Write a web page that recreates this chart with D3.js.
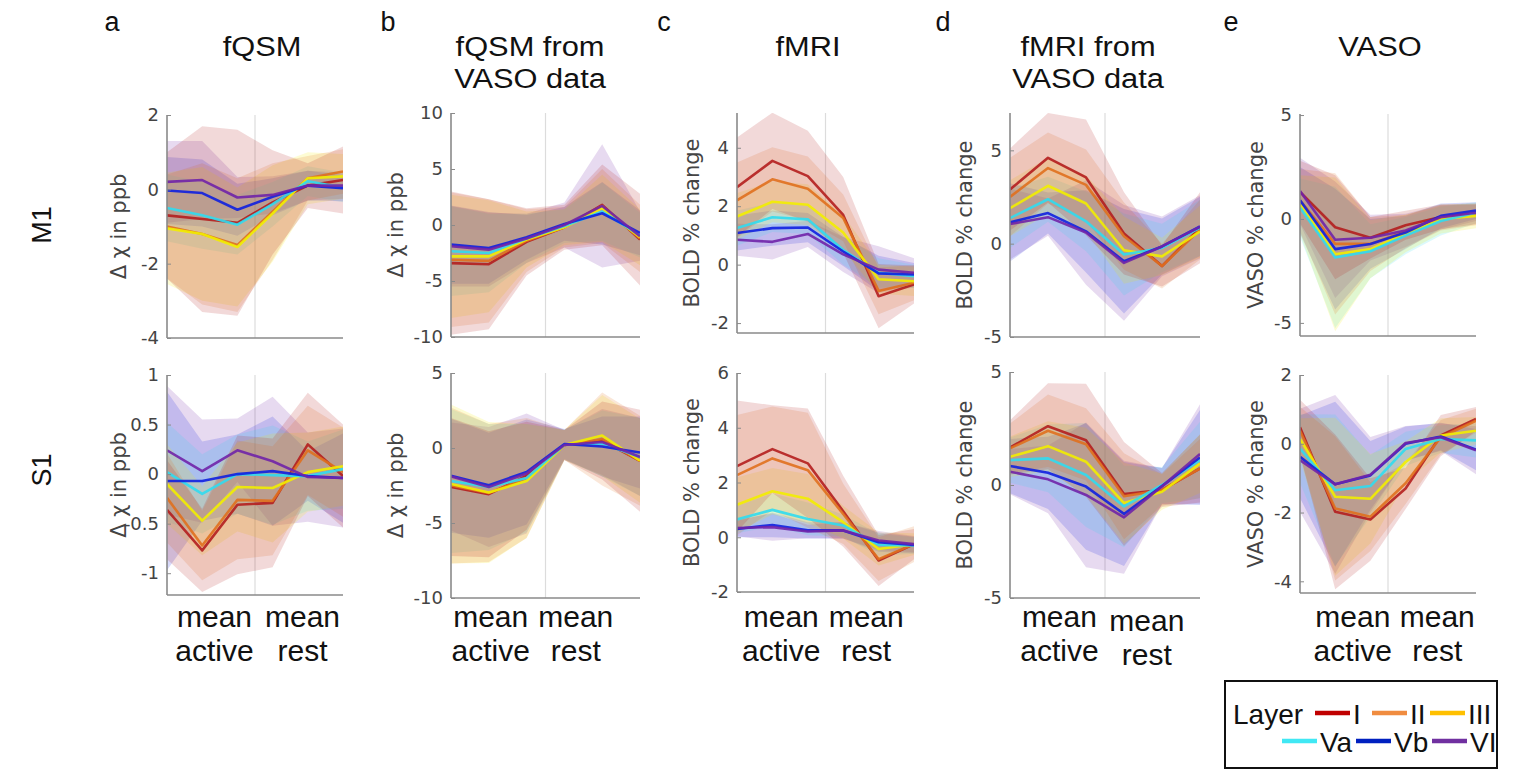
<!DOCTYPE html>
<html><head><meta charset="utf-8">
<script src="https://cdn.jsdelivr.net/npm/d3@7"></script>
<style>body{margin:0;background:#fff}svg{display:block}</style>
</head><body><svg id="chart" width="1532" height="776"></svg>
<script>
// ---------------- DATA ----------------
const timePoints = [1, 2, 3, 4, 5, 6];
const layers = ["I", "II", "III", "Va", "Vb", "VI"];
const lineColors = ["#b41e1e", "#e0701e", "#f2ee00", "#30dcf0", "#1020e0", "#7024a8"];
const legendColors = ["#c00000", "#f08c40", "#ffc000", "#40e8f4", "#0020c0", "#7030a0"];
const columnLetters = ["a", "b", "c", "d", "e"];
const columnTitles = [["fQSM"], ["fQSM from", "VASO data"], ["fMRI"], ["fMRI from", "VASO data"], ["VASO"]];
const rowNames = ["M1", "S1"];
const yAxisLabels = ["\u0394 \u03c7 in ppb", "\u0394 \u03c7 in ppb", "BOLD % change", "BOLD % change", "VASO % change"];
const xTickLabels = [["mean", "active"], ["mean", "rest"]];
const yTicksM1 = [[-4, -2, 0, 2], [-10, -5, 0, 5, 10], [-2, 0, 2, 4], [-5, 0, 5], [-5, 0, 5]];
const yTicksS1 = [[-1, -0.5, 0, 0.5, 1], [-10, -5, 0, 5], [-2, 0, 2, 4, 6], [-5, 0, 5], [-4, -2, 0, 2]];
const yDomainsM1 = [[-4, 2], [-10, 10], [-2.34, 5.19], [-5, 7], [-5.63, 5.05]];
const yDomainsS1 = [[-1.22, 1], [-10, 5], [-2, 6], [-5, 5], [-4.34, 2]];

// M1 row (rows: layers I, II, III, Va, Vb, VI)
const m1FqsmMean = [
  [-0.7, -0.8, -0.9, -0.35, 0.1, 0.25],
  [-1.0, -1.2, -1.5, -0.6, 0.3, 0.48],
  [-1.05, -1.2, -1.55, -0.65, 0.3, 0.35],
  [-0.5, -0.7, -0.95, -0.4, 0.22, 0.05],
  [-0.03, -0.1, -0.55, -0.2, 0.1, 0.03],
  [0.2, 0.25, -0.22, -0.15, 0.1, 0.1]];
const m1FqsmSd = [
  [1.7, 2.5, 2.5, 1.4, 0.6, 0.9],
  [1.4, 1.9, 1.8, 1.3, 0.6, 0.6],
  [1.5, 1.8, 1.6, 1.3, 0.7, 0.6],
  [0.9, 0.9, 0.8, 0.6, 0.4, 0.4],
  [0.9, 0.9, 0.7, 0.5, 0.4, 0.35],
  [1.1, 1.05, 0.55, 0.5, 0.4, 0.35]];
const m1FqsmVasoMean = [
  [-3.4, -3.5, -1.5, -0.2, 1.8, -1.3],
  [-3.1, -3.2, -1.4, -0.2, 1.7, -1.2],
  [-2.8, -2.8, -1.3, -0.2, 1.5, -1.1],
  [-2.35, -2.5, -1.2, -0.1, 1.2, -0.9],
  [-1.75, -2.05, -1.1, 0.1, 1.05, -0.7],
  [-1.9, -2.2, -1.2, 0.0, 1.7, -1.0]];
const m1FqsmVasoSd = [
  [6.4, 5.8, 3.0, 2.0, 3.6, 4.1],
  [6.0, 5.5, 2.8, 1.8, 3.3, 3.0],
  [5.5, 5.0, 2.5, 1.6, 3.0, 2.5],
  [4.0, 3.5, 2.2, 1.5, 2.6, 2.0],
  [3.5, 3.2, 2.0, 1.5, 2.8, 2.0],
  [3.6, 3.3, 2.2, 2.0, 5.5, 2.2]];
const m1FmriMean = [
  [2.65, 3.55, 3.03, 1.7, -1.08, -0.68],
  [2.2, 2.92, 2.6, 1.6, -0.9, -0.62],
  [1.65, 2.15, 2.05, 1.1, -0.5, -0.57],
  [1.25, 1.62, 1.55, 0.5, -0.28, -0.4],
  [1.08, 1.25, 1.27, 0.45, -0.3, -0.34],
  [0.85, 0.78, 1.05, 0.35, -0.17, -0.28]];
const m1FmriSd = [
  [1.7, 1.65, 1.55, 1.3, 1.1, 0.65],
  [1.3, 1.1, 1.1, 0.8, 0.8, 0.6],
  [0.8, 0.7, 0.7, 0.6, 0.5, 0.5],
  [0.6, 0.5, 0.5, 0.5, 0.5, 0.4],
  [0.6, 0.6, 0.5, 0.5, 0.6, 0.4],
  [0.55, 0.6, 0.45, 0.6, 0.8, 0.5]];
const m1FmriVasoMean = [
  [2.9, 4.6, 3.55, 0.55, -1.2, 0.85],
  [2.5, 4.05, 3.15, 0.4, -1.2, 0.75],
  [1.9, 3.1, 2.15, -0.35, -0.68, 0.65],
  [1.37, 2.38, 1.2, -0.58, -0.23, 0.85],
  [1.14, 1.64, 0.66, -0.94, -0.15, 0.92],
  [1.05, 1.42, 0.6, -1.03, -0.15, 0.9]];
const m1FmriVasoSd = [
  [2.2, 2.4, 3.1, 2.2, 1.1, 1.9],
  [2.1, 1.9, 1.9, 1.8, 1.2, 1.6],
  [1.5, 1.5, 1.5, 1.8, 1.0, 1.4],
  [1.6, 1.2, 1.6, 2.2, 1.3, 1.5],
  [2.1, 1.1, 2.2, 2.8, 1.5, 1.6],
  [1.9, 1.0, 2.8, 3.1, 1.6, 1.7]];
const m1VasoMean = [
  [1.3, -0.4, -0.9, -0.3, 0.1, 0.25],
  [0.9, -1.2, -1.2, -0.6, 0.05, 0.2],
  [0.7, -1.7, -1.45, -0.7, 0.0, 0.15],
  [0.55, -1.85, -1.55, -0.8, -0.1, 0.3],
  [0.9, -1.45, -1.2, -0.65, 0.15, 0.4],
  [1.35, -1.0, -0.9, -0.55, 0.08, 0.3]];
const m1VasoSd = [
  [1.5, 2.5, 1.0, 0.7, 0.6, 0.5],
  [1.5, 3.4, 1.3, 0.8, 0.6, 0.5],
  [1.4, 3.7, 1.4, 0.9, 0.7, 0.6],
  [1.4, 3.4, 1.3, 0.9, 0.7, 0.5],
  [1.6, 2.9, 1.2, 0.8, 0.6, 0.4],
  [1.6, 2.8, 1.1, 0.8, 0.6, 0.4]];

// S1 row
const s1FqsmMean = [
  [-0.36, -0.77, -0.31, -0.29, 0.3, -0.02],
  [-0.24, -0.72, -0.26, -0.27, 0.24, 0.02],
  [-0.1, -0.47, -0.13, -0.14, 0.02, 0.08],
  [0.02, -0.2, 0.0, -0.01, -0.02, 0.05],
  [-0.07, -0.07, 0.0, 0.03, -0.02, -0.04],
  [0.24, 0.03, 0.24, 0.13, -0.03, -0.04]];
const s1FqsmSd = [
  [0.5, 0.42, 0.7, 0.65, 0.52, 0.52],
  [0.45, 0.35, 0.6, 0.55, 0.45, 0.45],
  [0.4, 0.35, 0.45, 0.55, 0.4, 0.4],
  [0.5, 0.4, 0.4, 0.5, 0.35, 0.4],
  [0.9, 0.4, 0.4, 0.55, 0.25, 0.45],
  [0.65, 0.52, 0.32, 0.65, 0.45, 0.5]];
const s1FqsmVasoMean = [
  [-2.6, -3.08, -1.85, 0.2, 0.5, -0.85],
  [-2.5, -3.0, -2.0, 0.2, 0.6, -0.85],
  [-2.4, -2.97, -2.2, 0.2, 0.83, -0.85],
  [-2.2, -2.6, -2.0, 0.22, 0.3, -0.6],
  [-1.85, -2.48, -1.6, 0.27, 0.1, -0.3],
  [-1.9, -2.6, -1.7, 0.2, 0.4, -0.6]];
const s1FqsmVasoSd = [
  [4.6, 4.2, 3.6, 1.0, 2.6, 3.4],
  [5.2, 4.6, 4.0, 1.0, 3.1, 3.0],
  [5.3, 4.7, 3.8, 1.0, 2.7, 2.8],
  [4.8, 4.2, 3.6, 1.0, 2.2, 2.6],
  [3.8, 3.5, 3.5, 1.0, 2.0, 2.4],
  [3.6, 4.0, 4.0, 1.0, 2.2, 2.6]];
const s1FmriMean = [
  [2.6, 3.22, 2.7, 0.95, -0.85, -0.25],
  [2.27, 2.88, 2.45, 0.85, -0.8, -0.25],
  [1.19, 1.68, 1.41, 0.55, -0.43, -0.25],
  [0.65, 1.0, 0.67, 0.43, -0.28, -0.3],
  [0.3, 0.45, 0.25, 0.25, -0.18, -0.28],
  [0.34, 0.37, 0.21, 0.25, -0.12, -0.25]];
const s1FmriSd = [
  [2.4, 1.6, 2.0, 1.3, 0.93, 0.55],
  [2.2, 1.9, 2.1, 1.1, 0.8, 0.65],
  [1.0, 0.85, 0.9, 0.6, 0.6, 0.4],
  [0.5, 0.6, 0.6, 0.4, 0.4, 0.3],
  [0.3, 0.45, 0.3, 0.3, 0.35, 0.3],
  [0.3, 0.5, 0.25, 0.3, 0.35, 0.3]];
const s1FmriVasoMean = [
  [1.66, 2.6, 1.98, -0.4, -0.22, 0.73],
  [1.62, 2.4, 1.8, -0.5, -0.22, 0.73],
  [1.25, 1.72, 1.03, -0.8, -0.3, 0.95],
  [1.1, 1.18, 0.44, -0.95, 0.0, 1.1],
  [0.84, 0.54, -0.07, -1.28, -0.05, 1.22],
  [0.59, 0.25, -0.44, -1.43, -0.05, 1.37]];
const s1FmriVasoSd = [
  [1.2, 1.9, 2.5, 2.3, 0.75, 1.5],
  [1.1, 1.6, 1.6, 1.9, 0.7, 1.3],
  [0.9, 1.1, 1.5, 1.8, 0.8, 1.3],
  [1.0, 1.5, 2.3, 1.8, 0.8, 1.7],
  [1.2, 1.6, 2.8, 2.3, 0.8, 2.1],
  [1.0, 1.5, 3.2, 2.5, 0.8, 2.2]];
const s1VasoMean = [
  [0.48, -1.98, -2.2, -1.3, 0.24, 0.72],
  [0.38, -1.88, -2.12, -1.15, 0.19, 0.67],
  [0.14, -1.54, -1.6, -0.53, 0.24, 0.38],
  [-0.14, -1.35, -1.23, -0.15, 0.14, 0.1],
  [-0.38, -1.18, -0.92, 0.0, 0.21, -0.17],
  [-0.48, -1.18, -0.9, 0.02, 0.19, -0.19]];
const s1VasoSd = [
  [0.8, 2.25, 1.2, 0.6, 0.6, 0.35],
  [0.7, 2.1, 1.0, 0.6, 0.5, 0.35],
  [0.6, 2.3, 1.3, 0.6, 0.5, 0.4],
  [1.0, 2.2, 0.9, 0.5, 0.4, 0.5],
  [1.2, 2.4, 1.0, 0.5, 0.4, 0.6],
  [1.5, 2.6, 1.1, 0.5, 0.4, 0.7]];

const meansM1 = [m1FqsmMean, m1FqsmVasoMean, m1FmriMean, m1FmriVasoMean, m1VasoMean];
const sdsM1 = [m1FqsmSd, m1FqsmVasoSd, m1FmriSd, m1FmriVasoSd, m1VasoSd];
const meansS1 = [s1FqsmMean, s1FqsmVasoMean, s1FmriMean, s1FmriVasoMean, s1VasoMean];
const sdsS1 = [s1FqsmSd, s1FqsmVasoSd, s1FmriSd, s1FmriVasoSd, s1VasoSd];

// ---------------- LAYOUT ----------------
const cols = [
  {x: 167, w: 176, labDx: 48, xl: [0.27, 0.77], tx: 262, lx: 112},
  {x: 451, w: 189, labDx: 55, xl: [0.21, 0.66], tx: 530, lx: 388},
  {x: 737, w: 177, labDx: 45, xl: [0.25, 0.73], tx: 808, lx: 664},
  {x: 1010, w: 190, labDx: 45, xl: [0.26, 0.72], tx: 1088, lx: 943},
  {x: 1300, w: 176, labDx: 44, xl: [0.30, 0.78], tx: 1380, lx: 1231}
];
const rowsY = [
  [[115, 338], [113, 337], [113, 333], [113, 337], [114, 336]],
  [[375, 595], [373, 598], [373, 592], [372, 598], [375, 593]]
];
const rowLabelY = [225, 470];

const svg = d3.select("#chart");
const defs = svg.append("defs");
const sansFont = "'Liberation Sans', Arial, sans-serif";
const tickFont = "'DejaVu Sans', Verdana, sans-serif";
const axisGray = "#8a8a8a";

// column letters and titles
cols.forEach((c, ci) => {
  svg.append("text").attr("x", c.lx).attr("y", 31).attr("text-anchor", "middle")
    .style("font-family", sansFont).style("font-size", "27px").attr("fill", "#111").text(columnLetters[ci]);
  columnTitles[ci].forEach((line, li) => {
    svg.append("text").attr("text-anchor", "middle")
      .attr("transform", `translate(${c.tx},${56 + li * 32}) scale(1.1,1)`)
      .style("font-family", sansFont).style("font-size", "28px").attr("fill", "#111").text(line);
  });
});

// row labels
rowNames.forEach((r, ri) => {
  svg.append("text").attr("transform", `translate(51,${rowLabelY[ri]}) rotate(-90)`)
    .attr("text-anchor", "middle").style("font-family", sansFont).style("font-size", "27px")
    .attr("fill", "#111").text(r);
});

const allMeans = [meansM1, meansS1];
const allSds = [sdsM1, sdsS1];
const allDomains = [yDomainsM1, yDomainsS1];
const allTicks = [yTicksM1, yTicksS1];

[0, 1].forEach(ri => {
  cols.forEach((c, ci) => {
    const [yTop, yBot] = rowsY[ri][ci];
    const x = d3.scaleLinear().domain([1, 6]).range([c.x, c.x + c.w]);
    const y = d3.scaleLinear().domain(allDomains[ri][ci]).range([yBot, yTop]);
    const g = svg.append("g");
    const clipId = `clip-${ri}-${ci}`;
    defs.append("clipPath").attr("id", clipId).append("rect")
      .attr("x", c.x).attr("y", yTop).attr("width", c.w).attr("height", yBot - yTop);

    // vertical separator at active/rest boundary
    g.append("line").attr("x1", x(3.5)).attr("x2", x(3.5)).attr("y1", yTop).attr("y2", yBot)
      .attr("stroke", "#dcdcdc").attr("stroke-width", 1.2);

    const means = allMeans[ri][ci];
    const sds = allSds[ri][ci];
    const plot = g.append("g").attr("clip-path", `url(#${clipId})`);
    const area = d3.area().x((d, i) => x(timePoints[i]))
      .y0(d => y(d[0] - d[1])).y1(d => y(d[0] + d[1]));
    const line = d3.line().x((d, i) => x(timePoints[i])).y(d => y(d));

    // bands: deep layers first, superficial last
    layers.slice().reverse().forEach((L) => {
      const li = layers.indexOf(L);
      const pts = means[li].map((m, i) => [m, sds[li][i]]);
      plot.append("path").attr("d", area(pts)).attr("fill", lineColors[li]).attr("fill-opacity", 0.17);
    });
    layers.forEach((L, li) => {
      plot.append("path").attr("d", line(means[li])).attr("fill", "none")
        .attr("stroke", lineColors[li]).attr("stroke-width", 2.6).attr("stroke-opacity", 0.9)
        .attr("stroke-linejoin", "round");
    });

    // axes
    const yAxis = d3.axisLeft(y).tickValues(allTicks[ri][ci]).tickSize(-4).tickPadding(8)
      .tickFormat(d => String(d));
    const ya = svg.append("g").attr("transform", `translate(${c.x},0)`).call(yAxis);
    ya.select(".domain").attr("stroke", axisGray).attr("stroke-width", 1.6).attr("d", `M0,${yTop}V${yBot}`);
    ya.selectAll(".tick line").attr("stroke", axisGray);
    ya.selectAll(".tick text").style("font-family", tickFont).style("font-size", "18px").attr("fill", "#444");
    svg.append("line").attr("x1", c.x).attr("x2", c.x + c.w).attr("y1", yBot).attr("y2", yBot)
      .attr("stroke", axisGray).attr("stroke-width", 1.6);

    // y label
    svg.append("text").attr("transform", `translate(${c.x - c.labDx + 7},${(yTop + yBot) / 2}) rotate(-90)`)
      .attr("text-anchor", "middle").style("font-family", tickFont).style("font-size", "21px")
      .attr("fill", "#444").attr("xml:space", "preserve").text(yAxisLabels[ci]);

    // x labels on bottom row
    if (ri === 1) {
      xTickLabels.forEach((lab, k) => {
        const t = svg.append("text").attr("text-anchor", "middle")
          .style("font-family", sansFont).style("font-size", "30px").attr("fill", "#111");
        const cx = c.x + c.w * c.xl[k];
        const dy = (ci === 3 && k === 1) ? 4 : 0;
        lab.forEach((s, li) => t.append("tspan").attr("x", cx).attr("y", 627 + li * 34 + dy).text(s));
      });
    }
  });
});

// legend
const lg = svg.append("g");
lg.append("rect").attr("x", 1225).attr("y", 681).attr("width", 272).attr("height", 87)
  .attr("fill", "#fff").attr("stroke", "#111").attr("stroke-width", 2);
lg.append("text").attr("x", 1233).attr("y", 724).style("font-family", sansFont).style("font-size", "28px")
  .attr("fill", "#111").text("Layer");
const legendPos = [[1315, 713], [1372, 713], [1430, 713], [1282, 741], [1356, 741], [1432, 741]];
layers.forEach((L, li) => {
  const [lx, ly] = legendPos[li];
  lg.append("line").attr("x1", lx).attr("x2", lx + 35).attr("y1", ly).attr("y2", ly)
    .attr("stroke", legendColors[li]).attr("stroke-width", 4.5);
  lg.append("text").attr("x", lx + 38).attr("y", ly + 11).style("font-family", sansFont).style("font-size", "28px")
    .attr("fill", "#111").text(L);
});
</script></body></html>
